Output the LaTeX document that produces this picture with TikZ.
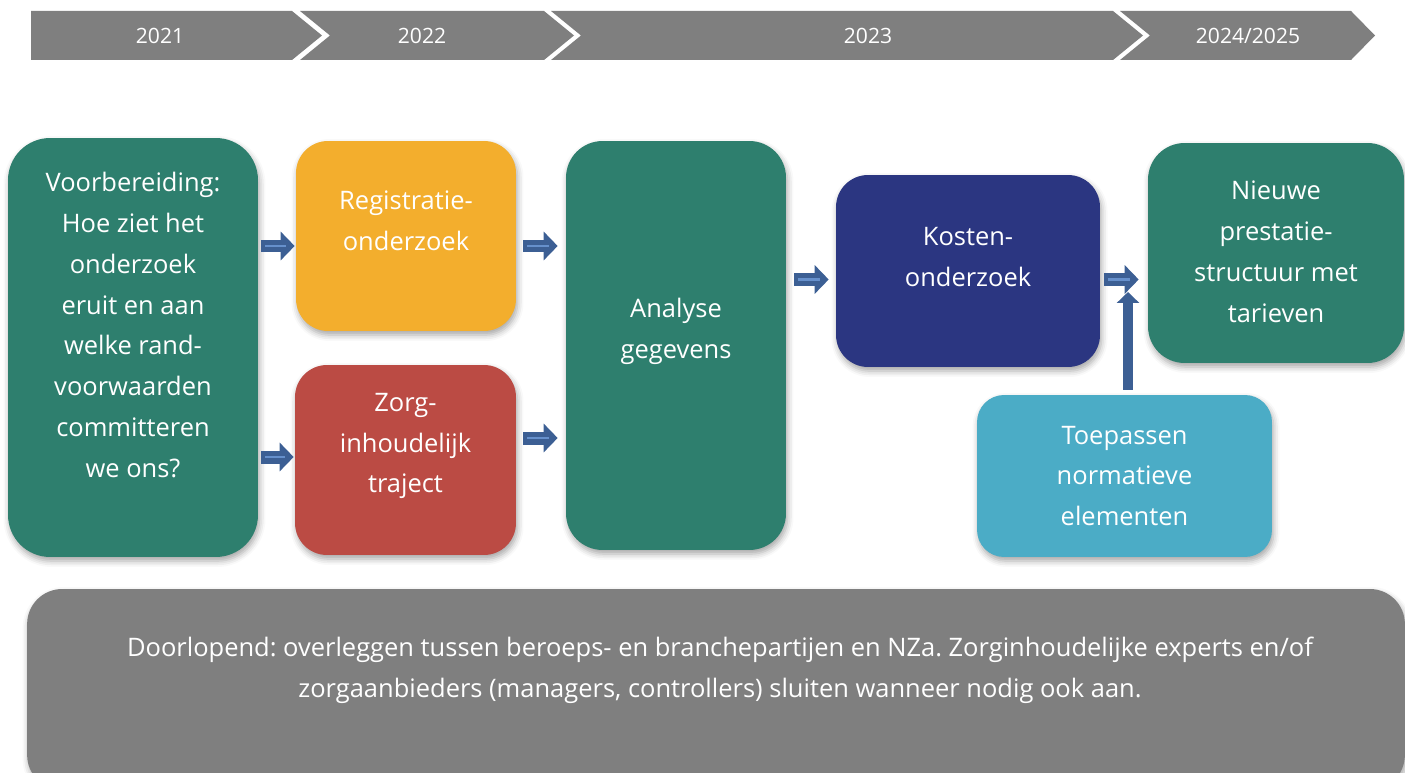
\documentclass[tikz,border=0pt]{standalone}
\usepackage{fontspec}
\setmainfont{Open Sans}
\usetikzlibrary{arrows.meta,shadows.blur}
\frenchspacing

\definecolor{bargray}{HTML}{7F7F7F}
\definecolor{phasegreen}{HTML}{2E7F6E}
\definecolor{regorange}{HTML}{F3AE2D}
\definecolor{zorgred}{HTML}{BB4B44}
\definecolor{kostnavy}{HTML}{2B3681}
\definecolor{normblue}{HTML}{4BACC6}
\definecolor{flowblue}{HTML}{3C5F94}
\definecolor{flowlight}{HTML}{6690CC}

\begin{document}
\begin{tikzpicture}[x=0.02cm, y=-0.02cm, line join=miter,
    phase/.style={rounded corners=#1, inner sep=0pt,
        blur shadow={shadow xshift=0.03cm, shadow yshift=-0.08cm,
                     shadow blur radius=0.12cm, shadow opacity=35}},
    phase/.default=0.64cm,
    boxtext/.style={text=white, align=center, inner sep=0pt,
        font=\fontsize{14.5}{23.3}\selectfont},
    yeartext/.style={text=white, font=\fontsize{12}{14}\selectfont},
    flow/.style={draw=flowblue, line width=0.26cm,
        -{Triangle[width=0.56cm, length=0.28cm]}},
    flowstripe/.style={draw=flowlight, line width=0.05cm},
    flowup/.style={draw=flowblue, line width=0.2cm,
        -{Triangle[width=0.44cm, length=0.22cm]}}
   ]

    \useasboundingbox (0,0) rectangle (1405,773);

    % timeline
    \fill [bargray] (31,11) -- (292,11) -- (322,35.5) -- (292,60) -- (31,60) -- cycle;
    \fill [bargray] (300,11) -- (544,11) -- (574,35.5) -- (544,60) -- (300,60)
        -- (330,35.5) -- cycle;
    \fill [bargray] (551,11) -- (1113,11) -- (1143,35.5) -- (1113,60) -- (551,60)
        -- (581,35.5) -- cycle;
    \fill [bargray] (1120,11) -- (1351,11) -- (1375,35.5) -- (1351,60) -- (1120,60)
        -- (1150,35.5) -- cycle;

    \node [yeartext] (y21) at (160,35.5) {2021};
    \node [yeartext] (y22) at (422,35.5) {2022};
    \node [yeartext] (y23) at (868,35.5) {2023};
    \node [yeartext] (y24) at (1248,35.5) {2024/2025};

    % phases
    \node [phase=0.84cm, fill=phasegreen, minimum width=5cm, minimum height=8.38cm,
        label={[boxtext, yshift=0.45cm]center:{Voorbereiding:\\Hoe ziet het\\onderzoek\\
        eruit en aan\\welke rand-\\voorwaarden\\committeren\\we ons?}}]
        (prep) at (133,347.5) {};
    \node [phase, fill=regorange, minimum width=4.4cm, minimum height=3.8cm,
        label={[boxtext, yshift=0.3cm]center:{Registratie-\\onderzoek}}]
        (reg) at (406,236) {};
    \node [phase, fill=zorgred, minimum width=4.42cm, minimum height=3.8cm,
        label={[boxtext, yshift=0.28cm]center:{Zorg-\\inhoudelijk\\traject}}]
        (zorg) at (405.5,460) {};
    \node [phase=0.73cm, fill=phasegreen, minimum width=4.4cm, minimum height=8.18cm,
        label={[boxtext, yshift=0.28cm]center:{Analyse\\gegevens}}]
        (anal) at (676,345.5) {};
    \node [phase, fill=kostnavy, minimum width=5.28cm, minimum height=3.84cm,
        label={[boxtext, yshift=0.28cm]center:{Kosten-\\onderzoek}}]
        (kost) at (968,271) {};
    \node [phase=0.73cm, fill=phasegreen, minimum width=5.12cm, minimum height=4.4cm,
        label={[boxtext, yshift=0.03cm]center:{Nieuwe\\prestatie-\\structuur met\\tarieven}}]
        (nieuw) at (1276,253) {};
    \node [phase=0.54cm, fill=normblue, minimum width=5.9cm, minimum height=3.24cm,
        label={[boxtext]center:{Toepassen\\normatieve\\elementen}}]
        (toep) at (1124.5,476) {};
    \node [phase=0.7cm, fill=bargray, minimum width=27.56cm, minimum height=4.02cm,
        label={[boxtext, xshift=0.08cm, yshift=0.39cm]center:{Doorlopend: overleggen
        tussen beroeps- en branchepartijen en NZa. Zorginhoudelijke experts en/of\\
        zorgaanbieders (managers, controllers) sluiten wanneer nodig ook aan.}}]
        (talk) at (716,689.5) {};

    % arrows
    \coordinate (rowA) at (0,246);
    \coordinate (rowB) at (0,457);
    \coordinate (rowC) at (0,438);
    \coordinate (rowD) at (0,279.5);
    \coordinate (meet) at (1128,292);

    \foreach \from/\to/\row/\ga/\gb in {prep/reg/rowA/0.06cm/0.02cm,
        prep/zorg/rowB/0.06cm/0.02cm, reg/anal/rowA/0.14cm/0.16cm,
        zorg/anal/rowC/0.14cm/0.16cm, anal/kost/rowD/0.16cm/0.14cm,
        kost/nieuw/rowD/0.08cm/0.18cm}{
        \draw [flow, shorten <=\ga, shorten >=\gb]
            (\from.east |- \row) -- (\to.west |- \row);
        \draw [flowstripe, shorten <=\ga+0.08cm, shorten >=\gb+0.18cm]
            (\from.east |- \row) -- (\to.west |- \row);
    }

    \draw [flowup, shorten <=0.1cm] (toep.north -| meet) -- (meet);
\end{tikzpicture}
\end{document}
